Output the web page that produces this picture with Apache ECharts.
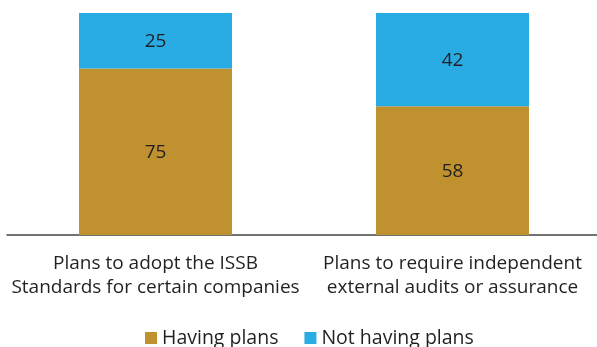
<!DOCTYPE html>
<html>
<head>
<meta charset="utf-8">
<script src="https://cdn.jsdelivr.net/npm/echarts@6/dist/echarts.min.js"></script>
<style>
  html, body { margin: 0; padding: 0; background: #ffffff; }
  #chart { width: 597px; height: 347px; }
</style>
</head>
<body>
<div id="chart"></div>
<script>
// Share of respondents (%) for each plan question
const categories = [
  'Plans to adopt the ISSB\nStandards for certain companies',
  'Plans to require independent\nexternal audits or assurance'
];
const havingPlans = [75, 58];
const notHavingPlans = [25, 42];
const seriesNames = ['Having plans', 'Not having plans'];

const FONT = '"Open Sans", "Noto Sans", sans-serif';
const TEXT = '#231f20';

const chart = echarts.init(document.getElementById('chart'), null, { renderer: 'canvas' });

const valueLabel = {
  show: true,
  position: 'inside',
  color: TEXT,
  fontFamily: FONT,
  fontSize: 19,
  offset: [0, 1]
};

chart.setOption({
  animation: false,
  backgroundColor: '#ffffff',
  grid: {
    left: 7,
    top: 13,
    width: 594,
    height: 222,
    containLabel: false,
    outerBoundsMode: 'none'
  },
  legend: {
    data: seriesNames,
    left: 145,
    top: 328,
    padding: 0,
    itemWidth: 12,
    itemHeight: 12,
    itemGap: 26,
    icon: 'rect',
    textStyle: { color: TEXT, fontFamily: FONT, fontSize: 19.5, lineHeight: 20 }
  },
  xAxis: {
    type: 'category',
    data: categories,
    axisLine: { show: true, lineStyle: { color: '#444444', width: 1.5 } },
    axisTick: { show: false },
    axisLabel: {
      color: TEXT,
      fontFamily: FONT,
      fontSize: 19,
      lineHeight: 24,
      margin: 17,
      interval: 0
    }
  },
  yAxis: {
    type: 'value',
    min: 0,
    max: 100,
    show: false,
    splitLine: { show: false }
  },
  series: [
    {
      name: seriesNames[0],
      type: 'bar',
      stack: 'total',
      data: havingPlans,
      barWidth: 153,
      itemStyle: { color: '#bf912f' },
      label: valueLabel
    },
    {
      name: seriesNames[1],
      type: 'bar',
      stack: 'total',
      data: notHavingPlans,
      barWidth: 153,
      itemStyle: { color: '#29ace3' },
      label: valueLabel
    }
  ]
});
</script>
</body>
</html>
